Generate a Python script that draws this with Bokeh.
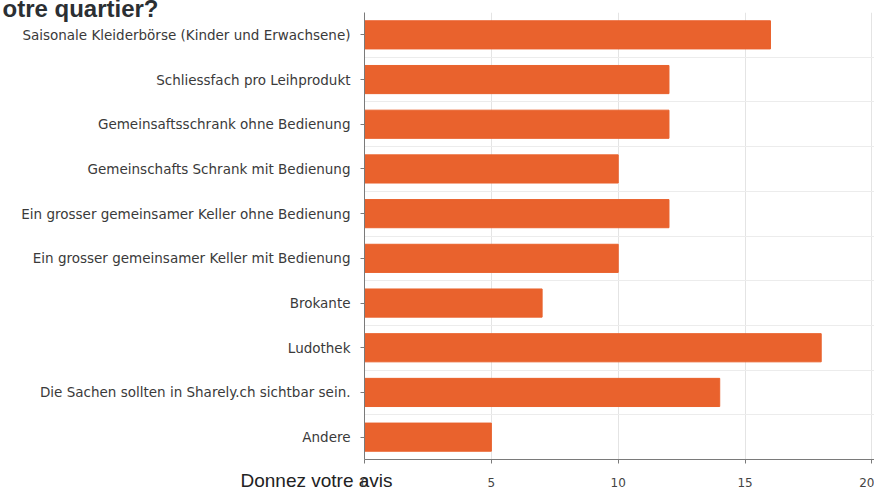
from bokeh.plotting import figure
from bokeh.models import Range1d, FixedTicker, Title
from bokeh.embed import file_html
from bokeh.resources import INLINE

categories = [
    "Saisonale Kleiderbörse (Kinder und Erwachsene)",
    "Schliessfach pro Leihprodukt",
    "Gemeinsaftsschrank ohne Bedienung",
    "Gemeinschafts Schrank mit Bedienung",
    "Ein grosser gemeinsamer Keller ohne Bedienung",
    "Ein grosser gemeinsamer Keller mit Bedienung",
    "Brokante",
    "Ludothek",
    "Die Sachen sollten in Sharely.ch sichtbar sein.",
    "Andere",
]
values = [16, 12, 12, 10, 12, 10, 7, 18, 14, 5]
x_ticks = [0, 5, 10, 15, 20]
title_text = "otre quartier?"
xlabel_text = "Donnez votre avis"

n = len(categories)
positions = list(range(n))

W, H = 874, 491
LEFT, TOP, BOTTOM = 364, 12, 32

p = figure(width=W, height=H, output_backend="svg", toolbar_location=None,
           x_range=Range1d(0, 20.1), y_range=Range1d(n - 0.5, -0.5),
           min_border_left=LEFT, min_border_right=0, min_border_top=TOP,
           min_border_bottom=BOTTOM)
p.outline_line_color = None
p.background_fill_color = "white"
p.border_fill_color = "white"

p.hbar(y=positions, right=values, left=0, height=0.63, color="#e9622d")

# axes
p.xaxis.ticker = FixedTicker(ticks=x_ticks)
p.xaxis.minor_tick_line_color = None
p.xaxis.major_tick_in = 0
p.xaxis.major_tick_out = 4
p.xaxis.axis_line_color = "#7a7a7a"
p.xaxis.major_tick_line_color = "#7a7a7a"
p.xaxis.major_label_text_font = "DejaVu Sans"
p.xaxis.major_label_text_font_size = "12px"
p.xaxis.major_label_text_color = "#444444"
p.xaxis.major_label_standoff = 14

p.yaxis.ticker = FixedTicker(ticks=positions)
p.yaxis.major_label_overrides = {i: c for i, c in zip(positions, categories)}
p.yaxis.minor_tick_line_color = None
p.yaxis.major_tick_in = 0
p.yaxis.major_tick_out = 4
p.yaxis.axis_line_color = "#7a7a7a"
p.yaxis.major_tick_line_color = "#7a7a7a"
p.yaxis.major_label_text_font = "DejaVu Sans"
p.yaxis.major_label_text_font_size = "13.5px"
p.yaxis.major_label_text_color = "#3a3a3a"
p.yaxis.major_label_standoff = 10

p.xgrid.ticker = FixedTicker(ticks=x_ticks)
p.xgrid.grid_line_color = "#e4e4e4"
p.ygrid.ticker = FixedTicker(ticks=[i - 0.5 for i in positions] + [n - 0.5])
p.ygrid.grid_line_color = "#ececec"

# negative standoff keeps the titles from taking layout space
top_title = Title(text=title_text, align="left", offset=2 - LEFT,
                  vertical_align="bottom", standoff=-18,
                  text_font="Liberation Sans", text_font_style="bold",
                  text_font_size="24px", text_color="#2b2f33")
p.add_layout(top_title, "above")

bottom_title = Title(text=xlabel_text, align="left", offset=240 - LEFT,
                     vertical_align="top", standoff=-40,
                     text_font="Liberation Sans", text_font_style="normal",
                     text_font_size="19px", text_color="#222222")
p.add_layout(bottom_title, "below")

open("out.html", "w").write(file_html(p, INLINE))
